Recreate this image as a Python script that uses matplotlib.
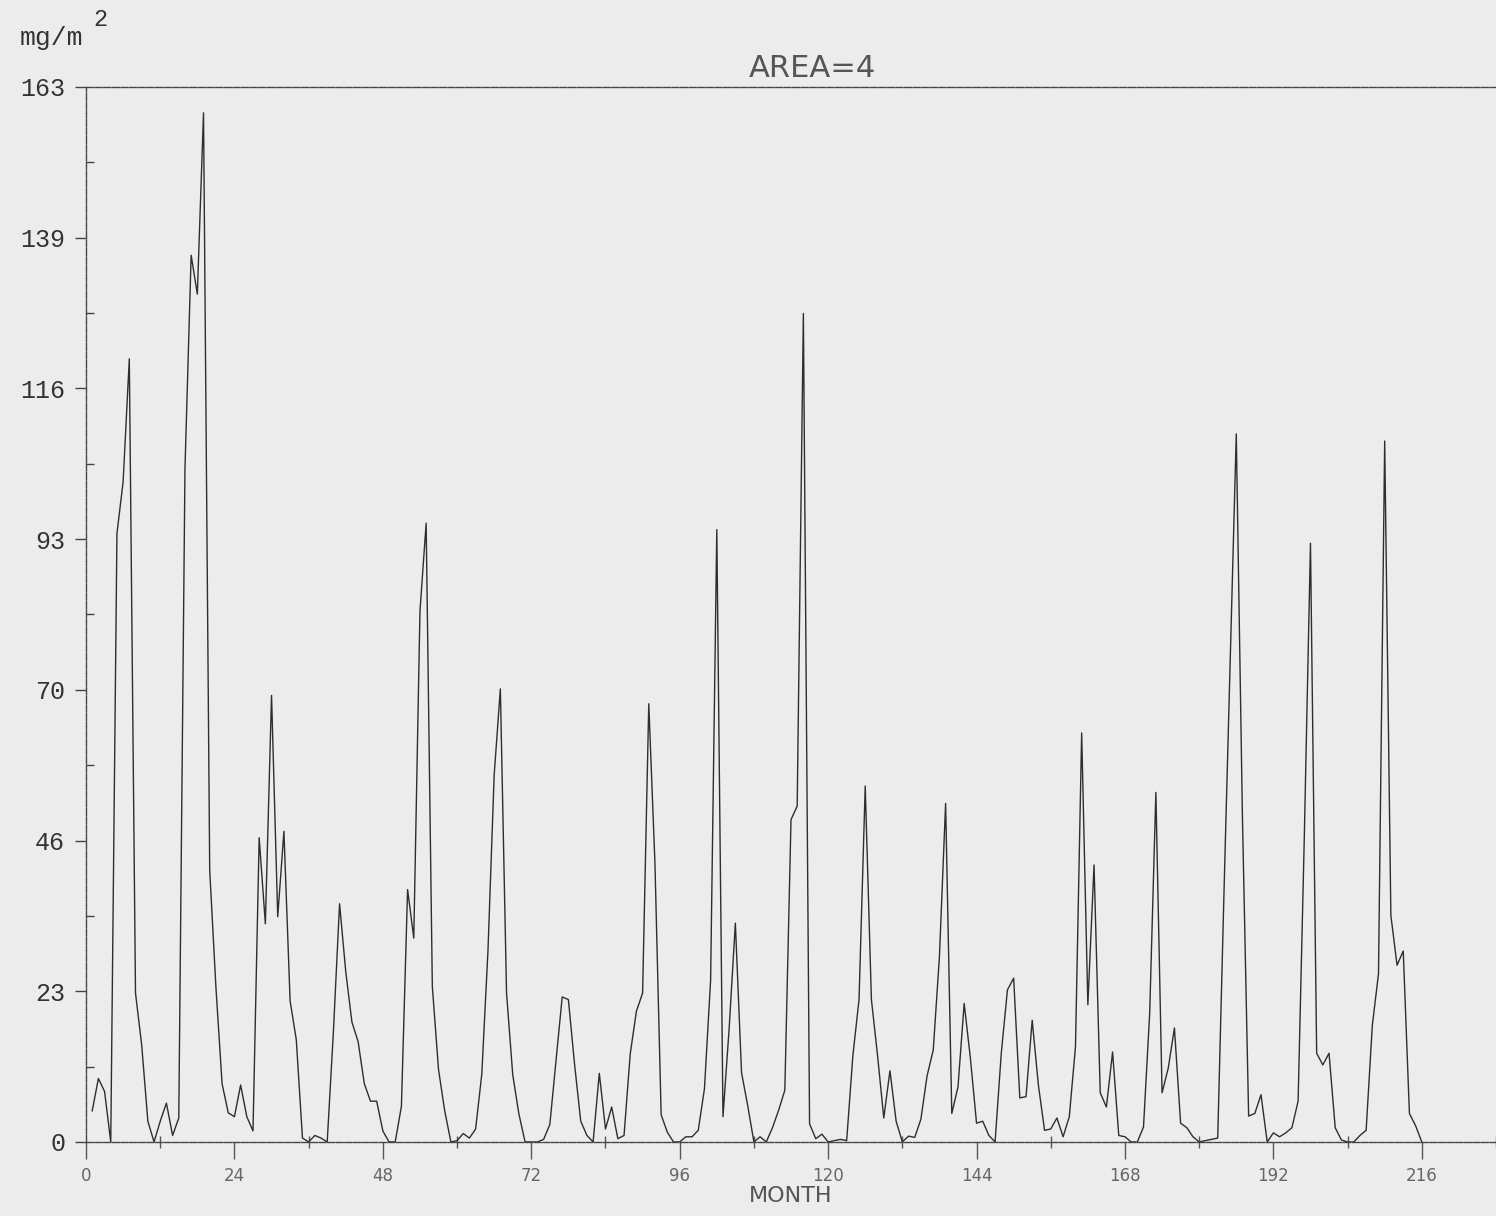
import numpy as np
import matplotlib
matplotlib.use("Agg")
import matplotlib.pyplot as plt

# ==========================================
# DATA (monthly values, mg/m^2, months 1..216)
# ==========================================

values = [
    4.8, 9.8, 7.8, 0, 94, 102, 121, 23, 15, 3.2, 0, 3.2,
    6, 1, 3.7, 104, 137, 131, 159, 42, 24, 9, 4.5, 3.9,
    8.8, 3.9, 1.7, 47, 33.7, 69, 34.8, 48, 21.8, 15.8, 0.6, 0,
    1, 0.6, 0, 17, 36.8, 26.3, 18.5, 15.5, 9, 6.3, 6.3, 1.7,
    0, 0, 5.5, 39, 31.5, 82, 95.6, 24, 11.2, 4.8, 0, 0.2,
    1.3, 0.6, 2, 10.5, 29.6, 56.7, 70, 23, 10.4, 4.3, 0, 0,
    0, 0.4, 2.7, 12.5, 22.4, 22, 12, 3.2, 1, 0, 10.6, 2,
    5.4, 0.5, 1, 13.6, 20.2, 23, 67.7, 43, 4.2, 1.5, 0, 0,
    0.8, 0.8, 1.8, 8.2, 25, 94.6, 3.9, 17.6, 33.8, 10.7, 5.6, 0,
    0.8, 0, 2.2, 4.9, 8, 49.8, 51.9, 128, 2.8, 0.5, 1.2, 0,
    0.2, 0.4, 0.2, 13.3, 22, 55, 22, 13.3, 3.7, 11, 3.2, 0,
    0.9, 0.7, 3.5, 10.2, 14.2, 28.6, 52.3, 4.4, 8.5, 21.4, 13, 2.9,
    3.2, 1, 0, 13.7, 23.5, 25.3, 6.8, 7, 18.8, 8.8, 1.8, 2,
    3.7, 0.8, 3.9, 14.7, 63.2, 21.2, 42.8, 7.6, 5.4, 13.9, 1, 0.8,
    0, 0, 2.3, 19.9, 54, 7.6, 11.4, 17.6, 2.9, 2.2, 0.8, 0,
    0.2, 0.4, 0.6, 38, 74, 109.4, 50, 4, 4.4, 7.3, 0, 1.4,
    0.8, 1.4, 2.2, 6.3, 47, 92.5, 13.7, 11.9, 13.7, 2.2, 0.3, 0,
    0, 1, 1.8, 18, 26, 108.3, 35, 27.3, 29.5, 4.4, 2.5, 0,
]
months = np.arange(1, len(values) + 1)

x_ticks = [0, 24, 48, 72, 96, 120, 144, 168, 192, 216]
y_max = 163
y_labels = ["0", "23", "46", "70", "93", "116", "139", "163"]

# ==========================================
# PLOT
# ==========================================

bg = "#ececec"
ink = "#2e2e2e"

fig = plt.figure(figsize=(14.96, 12.16), dpi=100, facecolor=bg)
ax = fig.add_axes([0.0575, 0.0609, 0.9425, 0.8676], facecolor=bg)

ax.plot(months, values, color=ink, lw=1.0)

ax.set_xlim(0, 227.3)
ax.set_ylim(0, y_max)

# spines like a pen plotter frame
ax.spines["right"].set_visible(False)
for side in ["left", "top", "bottom"]:
    ax.spines[side].set_color("#444444")
    ax.spines[side].set_linewidth(1.0)
    ax.spines[side].set_linestyle((0, (5, 1.2)))

# y axis
y_pos = [y_max * i / 7 for i in range(8)]
ax.set_yticks(y_pos)
ax.set_yticklabels(y_labels, family="Liberation Mono", fontsize=18, color="#333333")
ax.set_yticks([y_max * (i + 0.5) / 7 for i in range(7)], minor=True)
ax.tick_params(axis="y", which="major", direction="out", length=8, width=1,
               color="#444444", pad=7)
ax.tick_params(axis="y", which="minor", direction="in", length=6, width=1,
               color="#444444")

# x axis
ax.set_xticks(x_ticks)
ax.set_xticklabels([str(t) for t in x_ticks], fontsize=12, color="#666666")
ax.set_xticks([t + 12 for t in x_ticks], minor=True)
ax.tick_params(axis="x", which="major", direction="out", length=12, width=1,
               color="#555555", pad=6)
ax.tick_params(axis="x", which="minor", direction="inout", length=8, width=1,
               color="#555555")
ax.tick_params(top=False, right=False)

ax.set_xlabel("MONTH", fontsize=16, color="#555555", labelpad=1)

# labels around the frame
fig.text(0.0134, 0.963, "mg/m", family="Liberation Mono", fontsize=19,
         color="#333333", ha="left", va="baseline")
fig.text(0.0625, 0.979, "2", family="Liberation Mono", fontsize=17,
         color="#333333", ha="left", va="baseline")
fig.text(0.543, 0.944, "AREA=4", fontsize=22, color="#555555",
         ha="center", va="center")

fig.savefig("out.png", dpi=100, facecolor=bg)
